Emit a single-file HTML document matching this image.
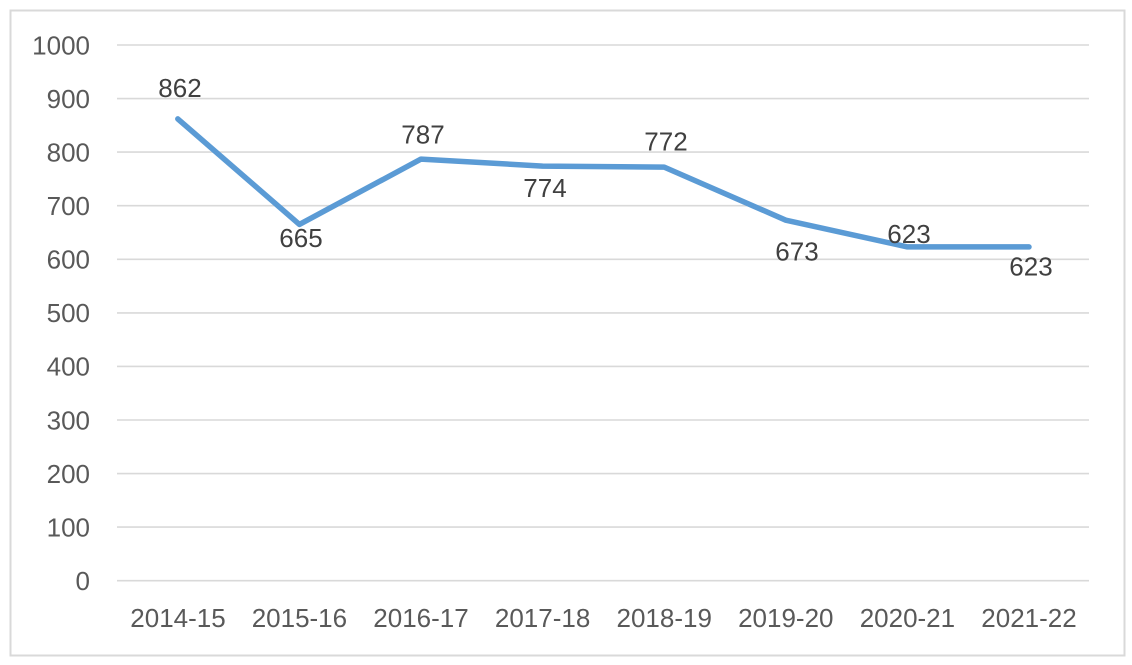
<!DOCTYPE html>
<html><head><meta charset="utf-8"><style>
html,body{margin:0;padding:0;background:#fff;}
svg{display:block;}
text{font-family:"Liberation Sans",sans-serif;font-size:26px;}
.ax{fill:#595959;}
.dl{fill:#404040;text-anchor:middle;}
</style></head><body>
<svg width="1132" height="665" viewBox="0 0 1132 665" xmlns="http://www.w3.org/2000/svg">
<rect x="0" y="0" width="1132" height="665" fill="#fff"/>
<rect x="10.5" y="10.5" width="1114" height="645" fill="none" stroke="#d9d9d9" stroke-width="2"/>
<g stroke="#d9d9d9" stroke-width="1.6">
<line x1="117" x2="1089" y1="45" y2="45"/>
<line x1="117" x2="1089" y1="98.6" y2="98.6"/>
<line x1="117" x2="1089" y1="152.1" y2="152.1"/>
<line x1="117" x2="1089" y1="205.7" y2="205.7"/>
<line x1="117" x2="1089" y1="259.3" y2="259.3"/>
<line x1="117" x2="1089" y1="312.9" y2="312.9"/>
<line x1="117" x2="1089" y1="366.4" y2="366.4"/>
<line x1="117" x2="1089" y1="420" y2="420"/>
<line x1="117" x2="1089" y1="473.6" y2="473.6"/>
<line x1="117" x2="1089" y1="527.1" y2="527.1"/>
<line x1="117" x2="1089" y1="580.7" y2="580.7"/>
</g>
<g class="ax" text-anchor="end">
<text x="90" y="54.3">1000</text>
<text x="90" y="107.9">900</text>
<text x="90" y="161.4">800</text>
<text x="90" y="215">700</text>
<text x="90" y="268.6">600</text>
<text x="90" y="322.2">500</text>
<text x="90" y="375.7">400</text>
<text x="90" y="429.3">300</text>
<text x="90" y="482.9">200</text>
<text x="90" y="536.4">100</text>
<text x="90" y="590">0</text>
</g>
<g class="ax" text-anchor="middle">
<text x="178" y="627">2014-15</text>
<text x="299.4" y="627">2015-16</text>
<text x="421" y="627">2016-17</text>
<text x="542.6" y="627">2017-18</text>
<text x="664.2" y="627">2018-19</text>
<text x="785.8" y="627">2019-20</text>
<text x="907.4" y="627">2020-21</text>
<text x="1029" y="627">2021-22</text>
</g>
<polyline fill="none" stroke="#5b9bd5" stroke-width="5.5" stroke-linejoin="round" stroke-linecap="round"
points="177.8,118.9 299.4,224.4 421,159.1 542.6,166.1 664.2,167.1 785.8,220.2 907.4,246.9 1029,246.9"/>
<g class="dl">
<text x="180" y="96.8">862</text>
<text x="301" y="246.8">665</text>
<text x="423" y="143.3">787</text>
<text x="545" y="196.8">774</text>
<text x="666" y="150.3">772</text>
<text x="797" y="260.3">673</text>
<text x="909" y="242.8">623</text>
<text x="1031" y="275.3">623</text>
</g>
</svg>
</body></html>
